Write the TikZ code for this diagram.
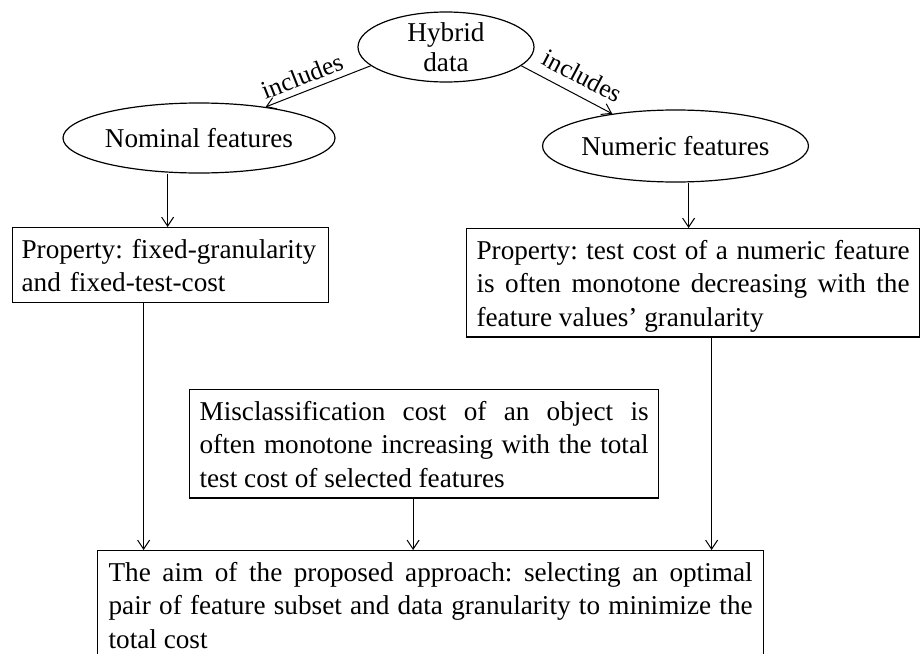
\documentclass[tikz,border=0pt]{standalone}
\usepackage{fontspec}
\setmainfont{Liberation Serif}
\usetikzlibrary{shapes.geometric,arrows.meta,calc}
\newcommand\tst{\rule{0pt}{15.5pt}}
\newcommand\bst{\rule[-5.5pt]{0pt}{0pt}}
\frenchspacing
\hyphenpenalty=10000
\exhyphenpenalty=10000
\begin{document}
\begin{tikzpicture}[x=0.5pt,y=-0.5pt,
  every node/.style={font=\fontsize{13.6}{16.6}\selectfont},
  ell/.style={draw, ellipse, inner sep=0pt, line width=0.6pt},
  box/.style={draw, rectangle, anchor=north west, inner ysep=0pt, line width=0.6pt, align=justify},
  lab/.style={font=\fontsize{12.8}{15}\selectfont, inner sep=3pt},
  arr/.style={-{Straight Barb[length=4.5pt,width=6pt]}, line width=0.5pt}]
\useasboundingbox (0,0) rectangle (920,653);

\node[ell, minimum width=88pt, minimum height=35pt, align=center] (hyb) at (446,47) {Hybrid\\[-1.6pt]data};
\node[ell, minimum width=136pt, minimum height=35pt] (nom) at (199,138) {Nominal features};
\node[ell, minimum width=132.5pt, minimum height=36pt] (num) at (675.5,146) {Numeric features};

\node[box, text width=149pt, inner xsep=4.5pt, align=left] (lbox) at (12,227)
  {\tst Property: fixed-granularity\\and fixed-test-cost\bst};
\node[box, text width=216.5pt, inner xsep=5pt] (rbox) at (466,228)
  {\tst Property: test cost of a numeric feature\linebreak is often monotone decreasing with the\linebreak feature values' granularity\bst};
\node[box, text width=224.5pt, inner xsep=5pt] (mbox) at (189,389)
  {\tst Misclassification cost of an object is\linebreak often monotone increasing with the total\linebreak test cost of selected features\bst};
\node[box, text width=322pt, inner xsep=5.5pt] (fbox) at (97,550)
  {\tst The aim of the proposed approach: selecting an optimal\linebreak pair of feature subset and data granularity to minimize the\linebreak total cost\bst};

\draw[arr] (hyb.194) -- node[lab, sloped, above, pos=0.6] {includes} (nom.25);
\draw[arr] (hyb.-14) -- node[lab, sloped, above=2pt, pos=0.57] {includes} (num.153);

\coordinate (a1) at ([xshift=-1.5pt]lbox.north);
\coordinate (a2) at ([xshift=-2.25pt]rbox.north);
\draw[arr] (nom.south -| a1) -- (a1);
\draw[arr] (num.south -| a2) -- (a2);

\coordinate (b1) at ([xshift=-13.5pt]lbox.south);
\coordinate (b2) at ([xshift=-5.5pt]mbox.south);
\coordinate (b3) at ([xshift=9.25pt]rbox.south);
\draw[arr] (b1) -- (b1 |- fbox.north);
\draw[arr] (b2) -- (b2 |- fbox.north);
\draw[arr] (b3) -- (b3 |- fbox.north);
\end{tikzpicture}
\end{document}
